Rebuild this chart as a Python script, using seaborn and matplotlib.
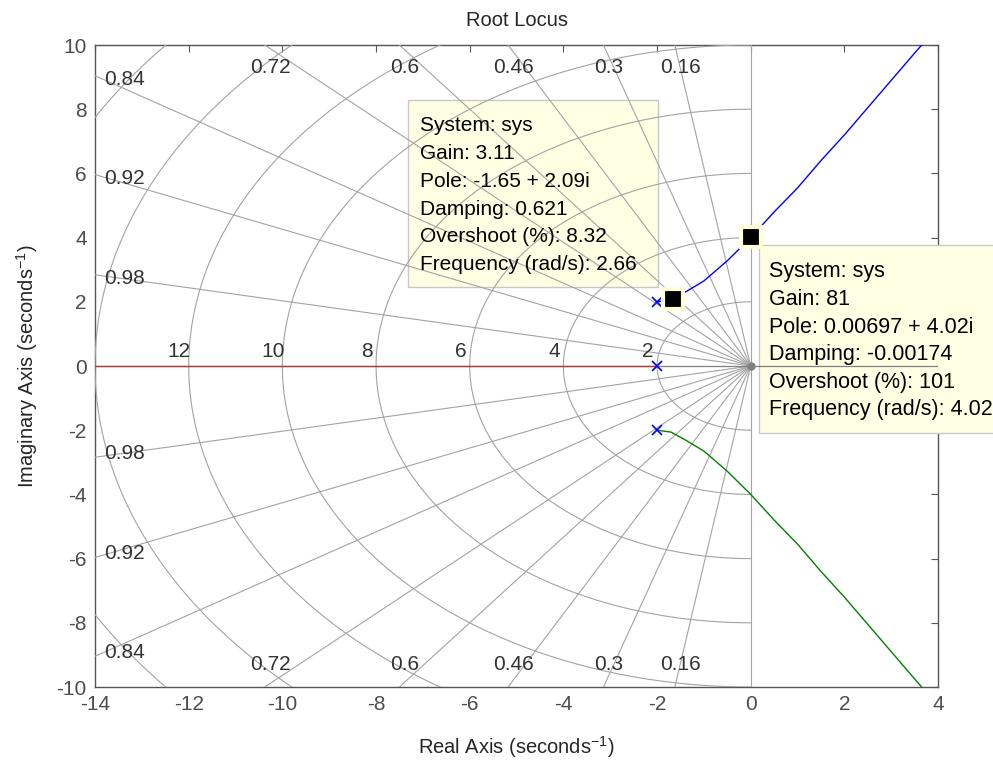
import numpy as np
import matplotlib
matplotlib.use("Agg")
import matplotlib.pyplot as plt
import seaborn as sns
from matplotlib.patches import Rectangle

# root locus branches
blue_re = [-2.0, -1.65, -1.4, -1.0, -0.5, 0.0, 0.5, 1.0, 1.5, 2.0, 2.5, 3.0, 3.5, 3.65]
blue_im = [2.0, 2.09, 2.3, 2.65, 3.28, 4.0, 4.8, 5.55, 6.4, 7.2, 8.05, 8.9, 9.75, 10.0]
green_re = [-2.0, -1.7, -1.4, -1.0, -0.5, 0.0, 0.5, 1.0, 1.5, 2.0, 2.5, 3.0, 3.5, 3.65]
green_im = [-2.0, -2.06, -2.3, -2.65, -3.28, -4.0, -4.8, -5.55, -6.4, -7.2, -8.05, -8.9, -9.75, -10.0]
red_re = [-2.0, -14.0]
red_im = [0.0, 0.0]

pole_re = [-2.0, -2.0, -2.0]
pole_im = [2.0, 0.0, -2.0]

# sgrid values
zeta_vals = [0.16, 0.3, 0.46, 0.6, 0.72, 0.84, 0.92, 0.98]
wn_vals = [2, 4, 6, 8, 10, 12, 14, 16]
wn_labels = [2, 4, 6, 8, 10, 12]

# data tips
tip_re = [-1.65, 0.00697]
tip_im = [2.09, 4.02]
tip1_text = ["System: sys", "Gain: 3.11", "Pole: -1.65 + 2.09i", "Damping: 0.621",
             "Overshoot (%): 8.32", "Frequency (rad/s): 2.66"]
tip2_text = ["System: sys", "Gain: 81", "Pole: 0.00697 + 4.02i", "Damping: -0.00174",
             "Overshoot (%): 101", "Frequency (rad/s): 4.02"]

sns.set_theme(style="white")
plt.rcParams["font.family"] = ["Liberation Sans", "DejaVu Sans"]
plt.rcParams["mathtext.fontset"] = "custom"
plt.rcParams["mathtext.rm"] = "Liberation Sans"
plt.rcParams["mathtext.default"] = "rm"
plt.rcParams["axes.unicode_minus"] = False

fig = plt.figure(figsize=(9.93, 7.63), dpi=100)
ax = fig.add_axes([0.0957, 0.0996, 0.849, 0.8414])

xmin, xmax, ymin, ymax = -14, 4, -10, 10
gcol = "#a3a3a3"

# damping lines
for z in zeta_vals:
    s = np.sqrt(1 - z**2)
    for sg in (1, -1):
        ax.plot([0, -30 * z], [0, sg * 30 * s], color=gcol, lw=0.8, zorder=3.5)
    xt = -10 * z / s
    if xt >= xmin:
        for sg in (1, -1):
            ax.text(xt + 0.12, sg * 9.3, f"{z:g}", ha="center", va="center",
                    fontsize=15, color="#333333", zorder=6)
    else:
        yl = 14 * s / z
        for sg in (1, -1):
            ax.text(-13.8, sg * (yl - 0.12), f"{z:g}", ha="left", va="center",
                    fontsize=15, color="#333333", zorder=6)
ax.axhline(0, color="#808080", lw=0.9, zorder=3.6)
ax.axvline(0, color=gcol, lw=0.8, zorder=3.5)

# natural frequency semicircles
th = np.linspace(np.pi / 2, 3 * np.pi / 2, 200)
for w in wn_vals:
    ax.plot(w * np.cos(th), w * np.sin(th), color=gcol, lw=0.8, zorder=3.5)
for w in wn_labels:
    ax.text(-w - 0.2, 0.45, str(w), ha="center", va="center", fontsize=15,
            color="#333333", zorder=6)

# locus branches
sns.lineplot(x=red_re, y=red_im, ax=ax, color="#a8403c", lw=1, sort=False, zorder=4)
sns.lineplot(x=blue_re, y=blue_im, ax=ax, color="#0000ff", lw=1, sort=False, zorder=4)
sns.lineplot(x=green_re, y=green_im, ax=ax, color="#008000", lw=1, sort=False, zorder=4)
ax.plot(pole_re, pole_im, "x", color="#0000ff", ms=7, mew=1.2, zorder=5)
ax.plot([0], [0], "o", color="#808080", ms=5, zorder=5)

# data tip boxes
ax.add_patch(Rectangle((-7.31, 2.46), 5.34, 5.83, fc="#ffffe3", ec="#c8c8c8",
                       lw=1, zorder=3, clip_on=False))
ax.add_patch(Rectangle((0.17, -2.09), 6.0, 5.86, fc="#ffffe3", ec="#c8c8c8",
                       lw=1, zorder=3, clip_on=False))
for i, line in enumerate(tip1_text):
    ax.text(-7.07, 7.5 - 0.87 * i, line, ha="left", va="center", fontsize=15,
            color="black", zorder=6)
for i, line in enumerate(tip2_text):
    ax.text(0.4, 2.93 - 0.86 * i, line, ha="left", va="center", fontsize=15.5,
            color="black", zorder=6, clip_on=False)
ax.plot(tip_re, tip_im, "s", color="black", mec="#ffffd8", ms=14, mew=3, zorder=7,
        clip_on=False)

ax.set_xlim(xmin, xmax)
ax.set_ylim(ymin, ymax)
ax.set_xticks(np.arange(-14, 5, 2))
ax.set_yticks(np.arange(-10, 11, 2))
ax.tick_params(direction="in", length=5, width=0.8, colors="#555555", labelsize=15,
               top=True, right=True, pad=6, labelcolor="#4d4d4d")
for sp in ax.spines.values():
    sp.set_color("#555555")
    sp.set_linewidth(1)

ax.set_title("Root Locus", fontsize=14.5, color="#262626", pad=14)
ax.set_xlabel(r"Real Axis (seconds$^{-1}$)", fontsize=14.5, color="#262626", labelpad=14)
ax.set_ylabel(r"Imaginary Axis (seconds$^{-1}$)", fontsize=14.5, color="#262626", labelpad=12)

plt.savefig("out.png", dpi=100)
